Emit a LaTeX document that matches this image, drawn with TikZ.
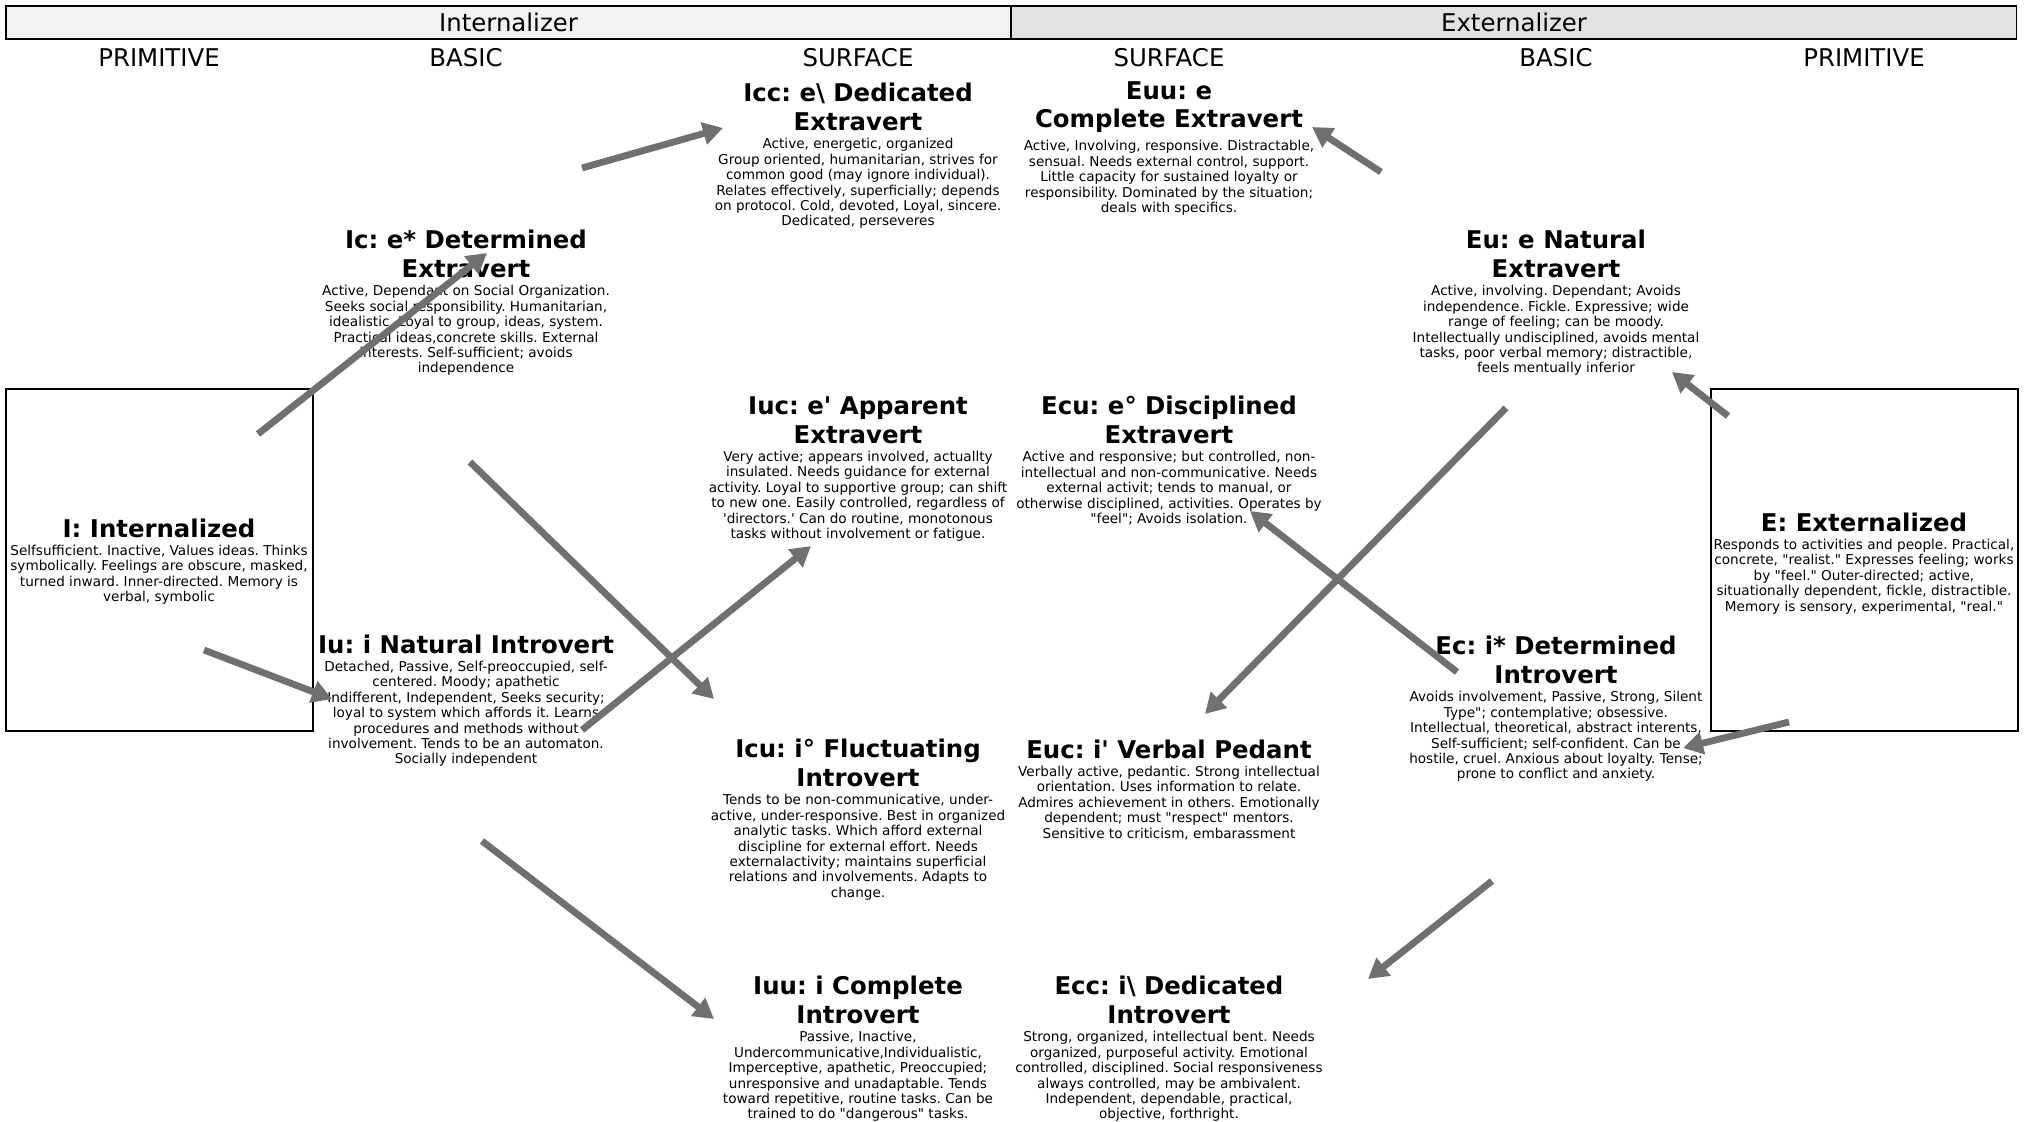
\documentclass[tikz,border=0pt]{standalone}
\usepackage{fontspec}
\setmainfont{DejaVu Sans}
\usetikzlibrary{positioning,arrows.meta}
\definecolor{flowgray}{RGB}{112,112,112}
\definecolor{intfill}{RGB}{242,242,242}
\definecolor{extfill}{RGB}{226,226,226}
\newcommand{\apo}{\textquotesingle}
\newcommand{\dq}{\textquotedbl}
\frenchspacing

\begin{document}
\begin{tikzpicture}[x=0.5pt,y=-0.5pt,
  hdr/.style={draw=black,line width=0.8pt,minimum width=502.5pt,minimum height=16.5pt,
    inner sep=0pt,font=\fontsize{12.2}{14}\selectfont},
  lvl/.style={inner sep=0pt,font=\fontsize{12.2}{14}\selectfont},
  ttl/.style={align=center,inner sep=0pt,font=\fontsize{12.2}{14.3}\selectfont\bfseries},
  bdy/.style={align=center,inner sep=0pt,font=\fontsize{6.8}{7.7}\selectfont},
  pbox/.style={draw=black,line width=1pt,minimum width=153.5pt,minimum height=171pt,inner sep=0pt},
  flow/.style={draw=flowgray,line width=3.4pt,-{Triangle[length=10pt,width=11pt]}}]
  \useasboundingbox (0,0) rectangle (2025,1122);

  % Header
  \node[hdr,fill=intfill] (intz) at (508.5,22.5) {Internalizer};
  \node[hdr,fill=extfill] (extz) at (1514,22.5) {Externalizer};

  % Levels
  \node[lvl] (lv1) at (159,58) {PRIMITIVE};
  \node[lvl] (lv2) at (466,58) {BASIC};
  \node[lvl] (lv3) at (858,58) {SURFACE};
  \node[lvl] (lv4) at (1169,58) {SURFACE};
  \node[lvl] (lv5) at (1556,58) {BASIC};
  \node[lvl] (lv6) at (1864,58) {PRIMITIVE};

  % Primitive boxes
  \node[pbox] (Ibox) at (159.5,560) {};
  \node[pbox] (Ebox) at (1864,560) {};

  % Internalizer side
  \node[ttl] (I) at (159,528) {I: Internalized};
  \node[bdy,below=3.5pt of I] (I-txt) {Selfsufficient. Inactive, Values ideas. Thinks\\
    symbolically. Feelings are obscure, masked,\\turned inward. Inner-directed. Memory is\\
    verbal, symbolic};

  \node[ttl] (Ic) at (466,254) {Ic: e* Determined\\Extravert};
  \node[bdy,below=3.5pt of Ic] (Ic-txt) {Active, Dependant on Social Organization.\\
    Seeks social responsibility. Humanitarian,\\idealistic. Loyal to group, ideas, system.\\
    Practical ideas,concrete skills. External\\interests. Self-sufficient; avoids\\independence};

  \node[ttl] (Iu) at (466,644) {Iu: i Natural Introvert};
  \node[bdy,below=3.5pt of Iu] (Iu-txt) {Detached, Passive, Self-preoccupied, self-\\
    centered. Moody; apathetic\\Indifferent, Independent, Seeks security;\\
    loyal to system which affords it. Learns\\procedures and methods without\\
    involvement. Tends to be an automaton.\\Socially independent};

  \node[ttl] (Icc) at (858,107) {Icc: e\textbackslash{} Dedicated\\Extravert};
  \node[bdy,below=3.5pt of Icc] (Icc-txt) {Active, energetic, organized\\
    Group oriented, humanitarian, strives for\\common good (may ignore individual).\\
    Relates effectively, superficially; depends\\on protocol. Cold, devoted, Loyal, sincere.\\
    Dedicated, perseveres};

  \node[ttl] (Iuc) at (858,420) {Iuc: e\apo{} Apparent\\Extravert};
  \node[bdy,below=3.5pt of Iuc] (Iuc-txt) {Very active; appears involved, actuallty\\
    insulated. Needs guidance for external\\activity. Loyal to supportive group; can shift\\
    to new one. Easily controlled, regardless of\\\apo{}directors.\apo{} Can do routine, monotonous\\
    tasks without involvement or fatigue.};

  \node[ttl] (Icu) at (858,763) {Icu: i° Fluctuating\\Introvert};
  \node[bdy,below=3.5pt of Icu] (Icu-txt) {Tends to be non-communicative, under-\\
    active, under-responsive. Best in organized\\analytic tasks. Which afford external\\
    discipline for external effort. Needs\\externalactivity; maintains superficial\\
    relations and involvements. Adapts to\\change.};

  \node[ttl] (Iuu) at (858,1000) {Iuu: i Complete\\Introvert};
  \node[bdy,below=3.5pt of Iuu] (Iuu-txt) {Passive, Inactive,\\
    Undercommunicative,Individualistic,\\Imperceptive, apathetic, Preoccupied;\\
    unresponsive and unadaptable. Tends\\toward repetitive, routine tasks. Can be\\
    trained to do \dq{}dangerous\dq{} tasks.};

  % Externalizer side
  \node[ttl] (Euu) at (1169,107) {Euu: e\\Complete Extravert};
  \node[bdy,below=3.5pt of Euu] (Euu-txt) {Active, Involving, responsive. Distractable,\\
    sensual. Needs external control, support.\\Little capacity for sustained loyalty or\\
    responsibility. Dominated by the situation;\\deals with specifics.};

  \node[ttl] (Ecu) at (1169,420) {Ecu: e° Disciplined\\Extravert};
  \node[bdy,below=3.5pt of Ecu] (Ecu-txt) {Active and responsive; but controlled, non-\\
    intellectual and non-communicative. Needs\\external activit;  tends to manual, or\\
    otherwise disciplined, activities. Operates by\\\dq{}feel\dq{}; Avoids isolation.};

  \node[ttl] (Euc) at (1169,749) {Euc: i\apo{} Verbal Pedant};
  \node[bdy,below=3.5pt of Euc] (Euc-txt) {Verbally active, pedantic. Strong intellectual\\
    orientation. Uses information to relate.\\Admires achievement in others. Emotionally\\
    dependent; must \dq{}respect\dq{} mentors.\\Sensitive to criticism, embarassment};

  \node[ttl] (Ecc) at (1169,1000) {Ecc: i\textbackslash{} Dedicated\\Introvert};
  \node[bdy,below=3.5pt of Ecc] (Ecc-txt) {Strong, organized, intellectual bent. Needs\\
    organized, purposeful activity. Emotional\\controlled, disciplined. Social responsiveness\\
    always controlled, may be ambivalent.\\Independent, dependable, practical,\\
    objective, forthright.};

  \node[ttl] (Eu) at (1556,254) {Eu: e Natural\\Extravert};
  \node[bdy,below=3.5pt of Eu] (Eu-txt) {Active, involving. Dependant; Avoids\\
    independence. Fickle. Expressive; wide\\range of feeling; can be moody.\\
    Intellectually undisciplined, avoids mental\\tasks, poor verbal memory;  distractible,\\
    feels mentually inferior};

  \node[ttl] (Ec) at (1556,660) {Ec: i* Determined\\Introvert};
  \node[bdy,below=3.5pt of Ec] (Ec-txt) {Avoids involvement, Passive, Strong, Silent\\
    Type\dq{};  contemplative;  obsessive.\\Intellectual, theoretical, abstract interents.\\
    Self-sufficient; self-confident. Can be\\hostile, cruel. Anxious about loyalty. Tense;\\
    prone to conflict and anxiety.};

  \node[ttl] (E) at (1864,522) {E: Externalized};
  \node[bdy,below=3.5pt of E] (E-txt) {Responds to activities and people. Practical,\\
    concrete, \dq{}realist.\dq{} Expresses feeling; works\\by \dq{}feel.\dq{} Outer-directed; active,\\
    situationally dependent, fickle, distractible.\\Memory is sensory, experimental, \dq{}real.\dq{}};

  % Arrow ends
  \coordinate (I-out1) at (258,434);   \coordinate (Ic-in) at (487,253);
  \coordinate (I-out2) at (204,650);   \coordinate (Iu-in) at (332,699);
  \coordinate (Ic-out1) at (582,168);  \coordinate (Icc-in) at (723,128);
  \coordinate (Ic-out2) at (470,462);  \coordinate (Icu-in) at (714,699);
  \coordinate (Iu-out1) at (582,730);  \coordinate (Iuc-in) at (811,546);
  \coordinate (Iu-out2) at (482,841);  \coordinate (Iuu-in) at (714,1019);
  \coordinate (Eu-out1) at (1381,172); \coordinate (Euu-in) at (1312,127);
  \coordinate (E-out1) at (1728,416);  \coordinate (Eu-in) at (1672,372);
  \coordinate (Eu-out2) at (1506,408); \coordinate (Euc-in) at (1205,714);
  \coordinate (Ec-out1) at (1457,672); \coordinate (Ecu-in) at (1250,511);
  \coordinate (E-out2) at (1789,722);  \coordinate (Ec-in) at (1683,748);
  \coordinate (Ec-out2) at (1492,881); \coordinate (Ecc-in) at (1368,979);

  % Arrows
  \draw[flow] (I-out1) -- (Ic-in);
  \draw[flow] (I-out2) -- (Iu-in);
  \draw[flow] (Ic-out1) -- (Icc-in);
  \draw[flow] (Ic-out2) -- (Icu-in);
  \draw[flow] (Iu-out1) -- (Iuc-in);
  \draw[flow] (Iu-out2) -- (Iuu-in);
  \draw[flow] (Eu-out1) -- (Euu-in);
  \draw[flow] (E-out1) -- (Eu-in);
  \draw[flow] (Eu-out2) -- (Euc-in);
  \draw[flow] (Ec-out1) -- (Ecu-in);
  \draw[flow] (E-out2) -- (Ec-in);
  \draw[flow] (Ec-out2) -- (Ecc-in);
\end{tikzpicture}
\end{document}
